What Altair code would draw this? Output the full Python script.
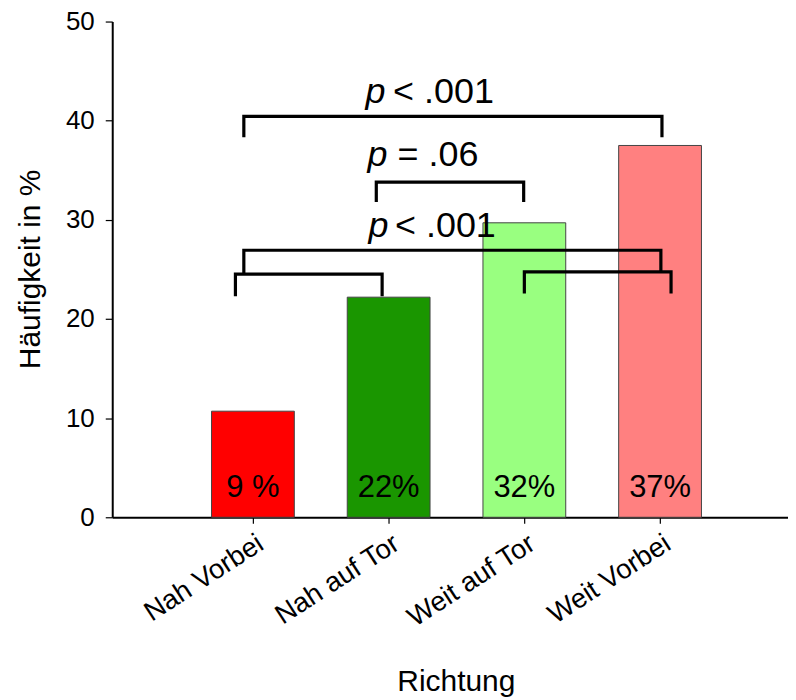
import altair as alt
import pandas as pd

# ---- data ----
categories = ["Nah Vorbei", "Nah auf Tor", "Weit auf Tor", "Weit Vorbei"]
positions = [1, 2, 3, 4]
values = [10.7, 22.2, 29.7, 37.5]
pct_labels = ["9 %", "22%", "32%", "37%"]
bar_colors = ["#FF0000", "#1A9600", "#99FF80", "#FF8080"]
y_ticks = [0, 10, 20, 30, 40, 50]

# significance brackets (data units)
br_id = [1, 2, 3, 4, 5]
br_x_left = [0.933, 1.909, 0.933, 0.871, 3.000]
br_x_right = [4.014, 2.995, 4.006, 1.952, 4.081]
br_y_top = [40.44, 33.80, 26.93, 24.52, 24.75]
br_y_left_end = [38.33, 31.79, 24.62, 22.30, 22.58]
br_y_right_end = [38.33, 31.79, 24.80, 22.30, 22.58]

# p-value annotations
p_x = [1.829, 1.844, 1.851]
p_y = [41.75, 35.48, 28.27]
p_rest_x = [2.033, 2.066, 2.047]
p_rest = ["< .001", "= .06", "< .001"]

# ---- tables ----
bar_df = pd.DataFrame({"cat": categories, "x": positions, "y": values, "lab": pct_labels})

rows = []
for i, xl, xr, yt, yl, yr in zip(br_id, br_x_left, br_x_right, br_y_top, br_y_left_end, br_y_right_end):
    rows += [
        {"id": i, "seq": 0, "x": xl, "y": yl},
        {"id": i, "seq": 1, "x": xl, "y": yt},
        {"id": i, "seq": 2, "x": xr, "y": yt},
        {"id": i, "seq": 3, "x": xr, "y": yr},
    ]
br_df = pd.DataFrame(rows)

p_df = pd.DataFrame({"x": p_x, "y": p_y, "x_rest": p_rest_x, "rest": p_rest})

FONT = "Liberation Sans"
label_expr = "[" + ",".join(["''"] + ["'" + c + "'" for c in categories]) + "][datum.value]"

x_scale = alt.Scale(domain=[0, 4.906], nice=False, zero=False)
y_scale = alt.Scale(domain=[0, 50], nice=False)

x_axis = alt.Axis(values=positions, labelExpr=label_expr, labelAngle=327,
                  labelFontSize=27.5, labelPadding=6, labelOverlap=False, tickSize=6,
                  tickWidth=1.2, domainWidth=2, title="Richtung", titleFontSize=30,
                  titleX=344.5, titleY=173.5, titleAlign="center",
                  titleBaseline="alphabetic")
y_axis = alt.Axis(values=y_ticks, labelFontSize=26, labelPadding=11, tickSize=7,
                  tickWidth=1.2, domainWidth=2, title="Häufigkeit in %",
                  titleFontSize=30, titleAngle=270, titleX=-72.5, titleY=248,
                  titleAlign="center", titleBaseline="alphabetic")

X = lambda f: alt.X(f, type="quantitative", scale=x_scale, axis=x_axis, title="Richtung")
Y = lambda f: alt.Y(f, type="quantitative", scale=y_scale, axis=y_axis, title="Häufigkeit in %")

bars = alt.Chart(bar_df).mark_bar(size=83, stroke="#444444", strokeWidth=1).encode(
    x=X("x"),
    y=Y("y"),
    color=alt.Color("cat:N", scale=alt.Scale(domain=categories, range=bar_colors), legend=None),
)

bar_text = alt.Chart(bar_df).mark_text(fontSize=31, align="center", baseline="alphabetic",
                                       color="black", font=FONT).encode(
    x=X("x"),
    y=alt.Y(datum=2.05, type="quantitative", scale=y_scale, axis=y_axis, title="Häufigkeit in %"),
    text="lab:N",
)

brackets = alt.Chart(br_df).mark_line(color="black", strokeWidth=3.2, strokeCap="butt",
                                      strokeJoin="miter").encode(
    x=X("x"),
    y=Y("y"),
    detail="id:N",
    order="seq:Q",
)

p_text = alt.Chart(p_df).mark_text(fontSize=36, fontStyle="italic", align="left",
                                   baseline="alphabetic", color="black", font=FONT).encode(
    x=X("x"),
    y=Y("y"),
    text=alt.value("p"),
)

rest_text = alt.Chart(p_df).mark_text(fontSize=36, align="left", baseline="alphabetic",
                                      color="black", font=FONT).encode(
    x=X("x_rest"),
    y=Y("y"),
    text="rest:N",
)

chart = alt.layer(bars, bar_text, brackets, p_text, rest_text).properties(
    width=677.5, height=497,
    padding={"left": 104.5, "top": 12.7, "right": 0, "bottom": 181},
    autosize=alt.AutoSizeParams(type="none"),
).configure_view(stroke=None).configure_axis(
    grid=False, domainColor="black", tickColor="black", labelColor="black",
    titleColor="black", labelFont=FONT, titleFont=FONT, titleFontWeight="normal",
).configure_text(font=FONT)

chart.save("out.html", embed_options={"renderer": "svg", "actions": False})
